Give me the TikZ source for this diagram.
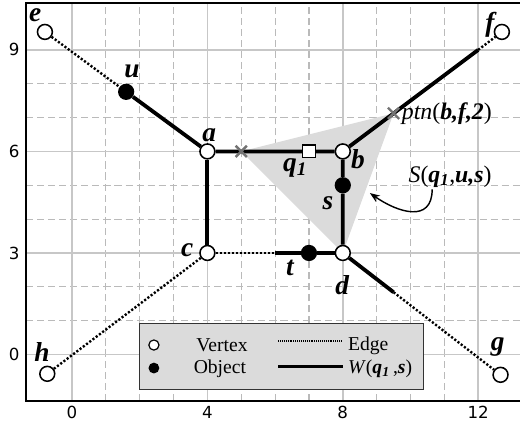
\documentclass[tikz,border=0pt]{standalone}
\usepackage{fontspec}
\setmainfont{Liberation Serif}
\newfontfamily\tickfont{DejaVu Sans}
\usepackage{tikz}
\usetikzlibrary{arrows.meta,positioning,shapes.misc}

\newcommand{\bfit}[1]{\textbf{\textit{#1}}}

\tikzset{
  minor/.style={black!27,line width=1pt,dash pattern=on 6pt off 3.3pt},
  major/.style={black!22,line width=1.2pt},
  frame/.style={line width=1.5pt},
  edge/.style={line width=2pt,dash pattern=on 1.8pt off 1.6pt},
  wpath/.style={line width=3.2pt},
  vtx/.style={circle,draw,line width=1.3pt,fill=white,minimum size=4.4mm,inner sep=0pt},
  endvtx/.style={vtx,path picture={\fill (path picture bounding box.center) circle (1pt);}},
  obj/.style={circle,fill=black,minimum size=4.8mm,inner sep=0pt},
  xmark/.style={cross out,draw=black!55,line width=2pt,minimum size=2.6mm,inner sep=0pt},
  qbox/.style={rectangle,draw,fill=white,line width=1pt,minimum size=3.8mm,inner sep=0pt},
  lbl/.style={inner sep=0pt,font=\fontsize{23}{25}\selectfont\bfseries\itshape},
  note/.style={inner sep=0pt,font=\fontsize{20}{22}\selectfont},
  tick/.style={inner sep=0pt,font=\fontsize{14}{16}\tickfont},
  legtxt/.style={inner sep=0pt,font=\fontsize{16.5}{18}\selectfont},
}

\begin{document}
\begin{tikzpicture}[>=Stealth]
\useasboundingbox (-2.127,-2.053) rectangle (13.235,10.473);

% grid and axes
\foreach \x in {1,2,3,5,6,7,9,10,11}
  \draw[minor] (\x,-1.37) -- (\x,10.39);
\foreach \y in {1,2,4,5,7,8}
  \draw[minor] (-1.36,\y) -- (13.3,\y);
\foreach \x in {0,4,8,12} {
  \draw[major] (\x,-1.37) -- (\x,10.39);
  \node[tick] (tx\x) at (\x,-1.70) {\x};
}
\foreach \y in {0,3,6,9} {
  \draw[major] (-1.36,\y) -- (13.3,\y);
  \node[tick] (ty\y) at (-1.71,\y) {\y};
}
\draw[frame] (13.3,10.39) -- (-1.36,10.39) -- (-1.36,-1.37) -- (13.3,-1.37);

% safe region S(q1,u,s)
\fill[black!14] (5,6) -- (9.5,7.125) -- (8,3) -- cycle;

% vertices and objects
\node[endvtx] (e) at (-0.8,9.53) {};
\node[endvtx] (f) at (12.7,9.53) {};
\node[endvtx] (g) at (12.66,-0.6) {};
\node[endvtx] (h) at (-0.73,-0.57) {};
\node[vtx] (a) at (4,6) {};
\node[vtx] (b) at (8,6) {};
\node[vtx] (c) at (4,3) {};
\node[vtx] (d) at (8,3) {};
\node[obj] (u) at (1.6,7.76) {};
\node[obj] (s) at (8,5) {};
\node[obj] (t) at (7,3) {};
\coordinate (bf) at (12,9);
\coordinate (ct) at (6,3);
\coordinate (dg) at (9.5,1.84);

% edges
\draw[edge] (e) -- (u);
\draw[edge] (bf) -- (f);
\draw[edge] (c) -- (ct);
\draw[edge] (dg) -- (g);
\draw[edge] (c) -- (h);
\draw[wpath] (u) -- (a) -- (b) -- (s) -- (d);
\draw[wpath] (a) -- (c);
\draw[wpath] (b) -- (bf);
\draw[wpath] (ct) -- (t) -- (d);
\draw[wpath] (d) -- (dg);

% query and split points
\node[xmark] (cut) at (5,6) {};
\node[xmark] (ptn) at (9.5,7.125) {};
\node[qbox] (q) at (7,6) {};

% labels
\node[lbl] (le) at (-1.09,10.03) {e};
\node[lbl] (lu) at (1.77,8.35) {u};
\node[lbl] (la) at (4.05,6.48) {a};
\node[lbl] (lb) at (8.45,5.77) {b};
\node[lbl] (lq) at (6.59,5.51) {q\textsubscript{1}};
\node[lbl] (ls) at (7.56,4.47) {s};
\node[lbl] (lt) at (6.44,2.55) {t};
\node[lbl] (ld) at (7.98,2.05) {d};
\node[lbl] (lc) at (3.40,3.09) {c};
\node[lbl] (lh) at (-0.89,0.07) {h};
\node[lbl] (lg) at (12.58,0.22) {g};
\node[lbl] (lf) at (12.35,9.73) {f};
\node[note,anchor=west] (lptn) at (9.74,7.13) {\textit{ptn}(\bfit{b,f,2})};
\node[note] (lreg) at (11.17,5.26) {\textit{S}(\bfit{q}\textsubscript{\bfit{1}},\bfit{u,s})};
\coordinate (as) at (10.64,4.88);
\coordinate (ae) at (8.8,4.77);
\draw[->,line width=1.2pt] (as) to[out=-90,in=-35,looseness=1.4] (ae);

% legend
\draw[draw=black!80,line width=0.8pt,fill=black!14] (2,-1.03) rectangle (10.37,0.93);
\node[vtx,minimum size=3mm,line width=1pt] (lv) at (2.42,0.28) {};
\node[obj,minimum size=3.2mm] (lo) at (2.42,-0.40) {};
\node[legtxt,anchor=base] (lvt) at (4.43,0.08) {Vertex};
\node[legtxt,anchor=base] (lot) at (4.37,-0.55) {Object};
\coordinate (le1) at (6.09,0.40);
\coordinate (le2) at (8.0,0.40);
\coordinate (lw1) at (6.09,-0.36);
\coordinate (lw2) at (8.0,-0.36);
\draw[line width=0.9pt,dash pattern=on 0.8pt off 0.8pt] (le1) -- (le2);
\draw[line width=2.8pt] (lw1) -- (lw2);
\node[legtxt,anchor=base west] (let) at (8.15,0.12) {Edge};
\node[legtxt,anchor=base west] (lwt) at (8.15,-0.55) {\textit{W}(\bfit{q}\textsubscript{\bfit{1}}\,,\bfit{s})};
\end{tikzpicture}
\end{document}
